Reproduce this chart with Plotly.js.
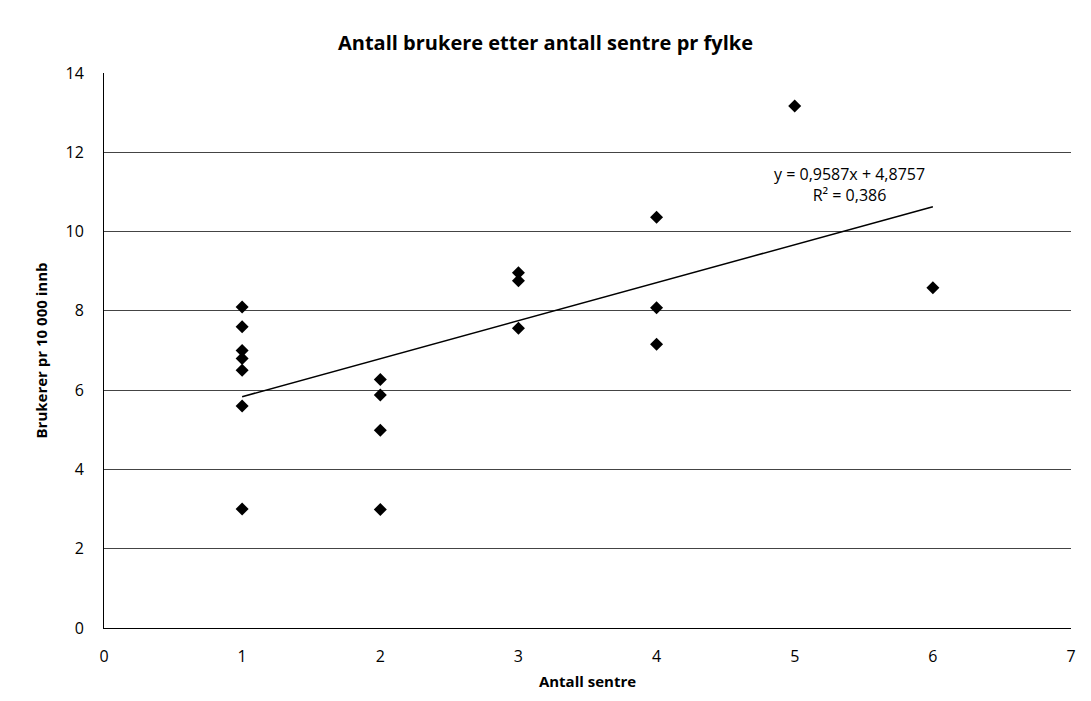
<!DOCTYPE html>
<html>
<head>
<meta charset="utf-8">
<script src="https://cdn.plot.ly/plotly-3.0.1.min.js"></script>
<style>html,body{margin:0;padding:0;background:#fff;}#chart{width:1091px;height:701px;}</style>
</head>
<body>
<div id="chart"></div>
<script>
const antallSentre = [1,1,1,1,1,1,1, 2,2,2,2, 3,3,3, 4,4,4, 5, 6];
const brukere      = [8.1,7.6,7.0,6.8,6.5,5.6,3.0, 6.27,5.88,4.99,2.99, 8.96,8.76,7.56, 10.36,8.08,7.16, 13.17, 8.58];
const slope = 0.9587;
const intercept = 4.8757;
const r2Label = "0,386";
const trendX = [1, 6];
const xTicks = [0,1,2,3,4,5,6,7];
const yTicks = [0,2,4,6,8,10,12,14];

const trendY = trendX.map(x => slope * x + intercept);
const font = "'Open Sans', Lato, sans-serif";

const data = [
  {x: antallSentre, y: brukere, type: 'scatter', mode: 'markers',
   marker: {symbol: 'diamond', size: 10, color: '#000'}, hoverinfo: 'x+y'},
  {x: trendX, y: trendY, type: 'scatter', mode: 'lines',
   line: {color: '#000', width: 1.5}, hoverinfo: 'skip'}
];

const layout = {
  width: 1091, height: 701,
  margin: {l: 104, r: 20, t: 73, b: 73},
  paper_bgcolor: '#fff', plot_bgcolor: '#fff',
  showlegend: false,
  font: {family: font, color: '#000', size: 16},
  title: {text: '<b>Antall brukere etter antall sentre pr fylke</b>', x: 0.5, xanchor: 'center',
          y: 0.938, yanchor: 'middle', font: {family: font, size: 20, color: '#000'}},
  xaxis: {range: [0, 7], tickvals: xTicks, ticktext: xTicks.map(String),
          showgrid: false, zeroline: false, showline: true, linecolor: '#000', linewidth: 1,
          ticks: '', tickfont: {size: 16}, ticklabelstandoff: 14,
          title: {text: '<b>Antall sentre</b>', font: {size: 15}, standoff: 10}},
  yaxis: {range: [0, 14], tickvals: yTicks, ticktext: yTicks.map(String),
          showgrid: true, gridcolor: '#444', gridwidth: 1, zeroline: false,
          showline: true, linecolor: '#000', linewidth: 1, ticks: '',
          tickfont: {size: 16}, ticklabelstandoff: 16,
          title: {text: '<b>Brukerer pr 10 000 innb</b>', font: {size: 15}, standoff: 14}},
  annotations: [
    {x: 5.4, y: 11.2, xref: 'x', yref: 'y', showarrow: false,
     text: 'y = ' + String(slope).replace('.', ',') + 'x + ' + String(intercept).replace('.', ',') + '<br>R² = ' + r2Label,
     font: {size: 16, family: font}, align: 'center'}
  ]
};

Plotly.newPlot('chart', data, layout, {displayModeBar: false, staticPlot: true});
</script>
</body>
</html>
